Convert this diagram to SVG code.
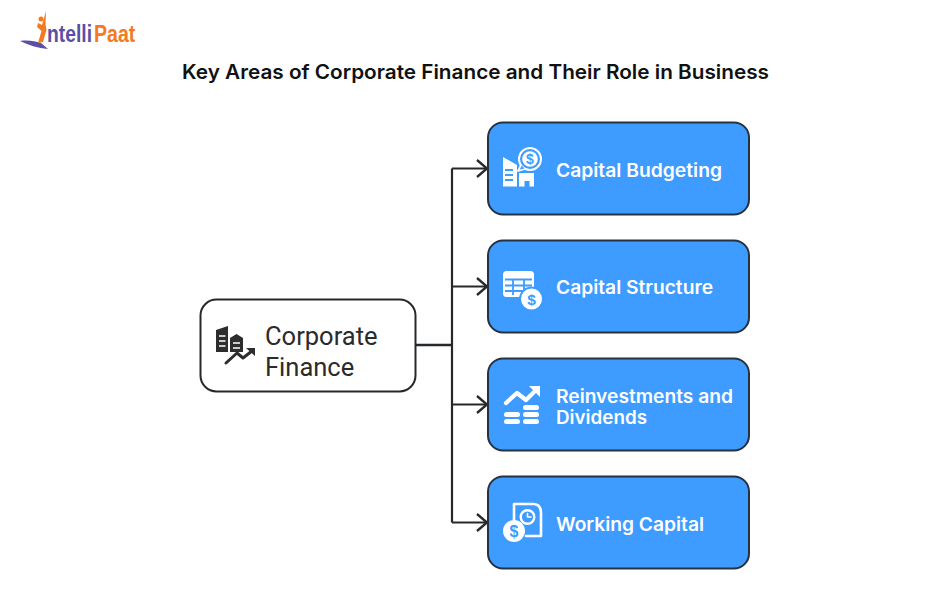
<svg xmlns="http://www.w3.org/2000/svg" width="950" height="612" viewBox="0 0 950 612">
<style>
.box{fill:#3e9bff;stroke:#26323f;stroke-width:2}
.lbl{font-family:"Inter","Open Sans","Liberation Sans",sans-serif;font-weight:600;font-size:18.5px;fill:#fff}
.w{fill:#fff}
.wl{fill:none;stroke:#fff;stroke-width:2.4;stroke-linecap:round;stroke-linejoin:round}
.con{fill:none;stroke:#26292c;stroke-width:2}
.d{fill:#2d2d2d}
.dl{fill:none;stroke:#2d2d2d;stroke-width:3;stroke-linecap:round;stroke-linejoin:round}
.cut{stroke:#3e9bff;stroke-width:2;fill:none}
.sym{font-family:"Liberation Sans",sans-serif;font-weight:700;fill:#3e9bff;text-anchor:middle}
.logo{font-family:"Liberation Sans",sans-serif;font-weight:700;font-size:23px}
</style>
<defs>
<marker id="arr" markerUnits="userSpaceOnUse" markerWidth="16" markerHeight="22" refX="13" refY="11" orient="auto">
<path d="M3 2.500 L13 11 L3 19.500" fill="none" stroke="#26292c" stroke-width="2.300"/>
</marker>
</defs>
<rect width="950" height="612" fill="#fff"/>
<g id="logo">
<path d="M20 41 C28 40 35 41 41 43 L48 49 C38 48 28 45 20 41Z" fill="#5b4ea6"/>
<path d="M46 11 L45.500 24 L46.500 30 L43 42 L38 43 L41.500 31 L37 27 L38 23 L42 25 Z" fill="#f47a1f"/>
<circle cx="41" cy="19" r="2.500" fill="#f47a1f"/>
<text class="logo" transform="translate(47 42) scale(.84 1)" fill="#5b4ea6">ntelli</text>
<text class="logo" transform="translate(94 42) scale(.85 1)" fill="#f47a1f">Paat</text>
</g>
<text id="title" x="475.500" y="79" text-anchor="middle" font-family="Inter,'Open Sans','Liberation Sans',sans-serif" font-weight="600" font-size="20" fill="#111" textLength="587" lengthAdjust="spacingAndGlyphs">Key Areas of Corporate Finance and Their Role in Business</text>
<g id="connectors">
<path class="con" style="stroke-width:2.600" d="M416 345 H452"/>
<path class="con" style="stroke-width:2.200" d="M452 168.500 V522.500"/>
<path class="con" d="M452 168.500 H487" marker-end="url(#arr)"/>
<path class="con" d="M452 286.500 H487" marker-end="url(#arr)"/>
<path class="con" d="M452 404.500 H487" marker-end="url(#arr)"/>
<path class="con" d="M452 522.500 H487" marker-end="url(#arr)"/>
</g>
<g id="node-corporate-finance">
<rect x="200.500" y="299.500" width="215" height="92" rx="16" fill="#fff" stroke="#26292c" stroke-width="2"/>
<path class="d" d="M216 330 L228 326 V352 H216Z"/>
<path class="d" d="M230 338 L236.500 334 L243 338 V352 H230Z"/>
<path d="M219 336 H225.500 M219 341 H225.500 M219 346 H225.500 M233 343 H240 M233 348 H240" stroke="#fff" stroke-width="1.600"/>
<path class="dl" d="M226 363 L237 353 L243 358 L252 351"/>
<path class="d" d="M246 348 H255 V356Z"/>
<text font-family="Roboto,'Liberation Sans',sans-serif" font-size="25.500px" fill="#2b2b2b"><tspan x="265" y="345">Corporate</tspan><tspan x="265" y="376">Finance</tspan></text>
</g>
<g id="node-capital-budgeting">
<rect class="box" x="488" y="122.500" width="261" height="92" rx="15"/>
<path class="w" d="M503 157 L517 165 V186.500 H503Z"/>
<path class="cut" d="M505 170 H513 M505 175 H513 M505 180 H513"/>
<path class="w" d="M519 173 H534 V186.500 H529.500 V181 H524.500 V186.500 H519Z"/>
<circle cx="530" cy="159" r="11" fill="#3e9bff" stroke="#fff" stroke-width="2"/>
<path d="M521 165 L518 171 L525 169" fill="#3e9bff" stroke="#fff" stroke-width="1.800" stroke-linejoin="round"/>
<circle cx="530" cy="159" r="7.800" class="w"/>
<text class="sym" x="530" y="164" font-size="14">$</text>
<text class="lbl" x="556" y="176.500" textLength="166" lengthAdjust="spacingAndGlyphs">Capital Budgeting</text>
</g>
<g id="node-capital-structure">
<rect class="box" x="488" y="240.500" width="261" height="92" rx="15"/>
<rect class="w" x="503" y="271" width="31" height="26" rx="3.500"/>
<path d="M505 279.500 H532 M505 285.500 H532 M505 291 H532 M513 279.500 V295 M524 279.500 V295" stroke="#3e9bff" stroke-width="1.800"/>
<circle cx="531.500" cy="299" r="11.500" class="w" stroke="#3e9bff" stroke-width="2"/>
<text class="sym" x="531.500" y="304.500" font-size="15.500">$</text>
<text class="lbl" x="556" y="293.500" textLength="157" lengthAdjust="spacingAndGlyphs">Capital Structure</text>
</g>
<g id="node-reinvestments-dividends">
<rect class="box" x="488" y="358.500" width="261" height="92" rx="15"/>
<path class="wl" style="stroke-width:4.200" d="M506 403 L517 393 L526 400 L537 389"/>
<path class="w" d="M529 386 H540 V397Z"/>
<rect class="w" x="523" y="405" width="16" height="5" rx="2.500"/>
<rect class="w" x="504" y="412" width="16" height="5" rx="2.500"/>
<rect class="w" x="523" y="412" width="16" height="5" rx="2.500"/>
<rect class="w" x="504" y="419" width="16" height="5" rx="2.500"/>
<rect class="w" x="523" y="419" width="16" height="5" rx="2.500"/>
<text class="lbl"><tspan x="556" y="403" textLength="177" lengthAdjust="spacingAndGlyphs">Reinvestments and</tspan><tspan x="556" y="424" textLength="91" lengthAdjust="spacingAndGlyphs">Dividends</tspan></text>
</g>
<g id="node-working-capital">
<rect class="box" x="488" y="476.500" width="261" height="92" rx="15"/>
<path class="wl" style="stroke-width:2.600" d="M514 520 V504 H533 Q541 504 541 513 V536 H526"/>
<circle cx="527.500" cy="517" r="6.800" class="wl"/>
<path class="wl" style="stroke-width:1.600" d="M527.500 513.500 V517 H531"/>
<circle cx="514" cy="531" r="11" class="w"/>
<text class="sym" x="514" y="537" font-size="16">$</text>
<text class="lbl" x="556" y="530.500" textLength="148" lengthAdjust="spacingAndGlyphs">Working Capital</text>
</g>
</svg>
